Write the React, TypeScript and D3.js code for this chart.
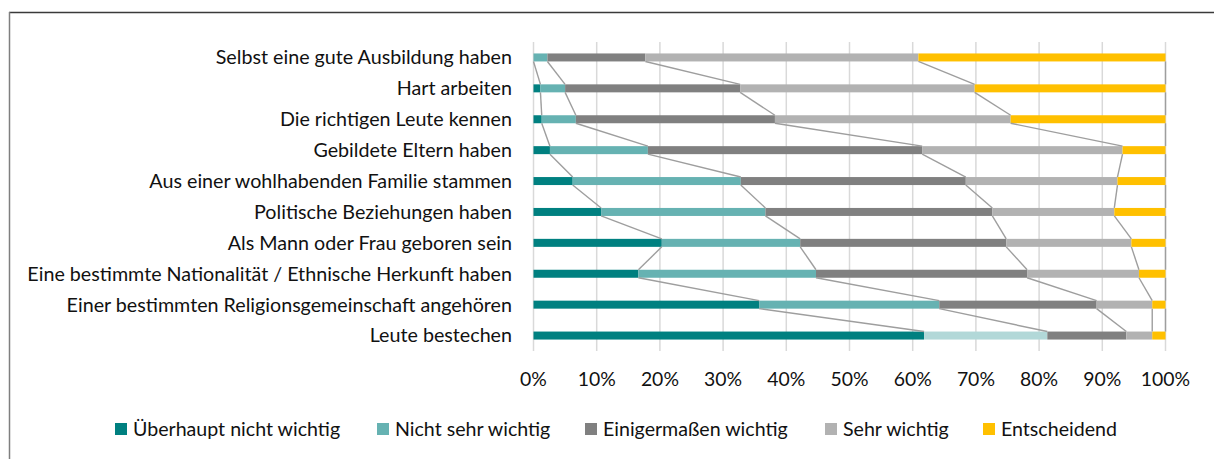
import React from "react";
import * as d3 from "d3";

const categories = [
  "Selbst eine gute Ausbildung haben",
  "Hart arbeiten",
  "Die richtigen Leute kennen",
  "Gebildete Eltern haben",
  "Aus einer wohlhabenden Familie stammen",
  "Politische Beziehungen haben",
  "Als Mann oder Frau geboren sein",
  "Eine bestimmte Nationalität / Ethnische Herkunft haben",
  "Einer bestimmten Religionsgemeinschaft angehören",
  "Leute bestechen",
];

const seriesNames = [
  "Überhaupt nicht wichtig",
  "Nicht sehr wichtig",
  "Einigermaßen wichtig",
  "Sehr wichtig",
  "Entscheidend",
];

const ueberhauptNicht = [0, 1.1, 1.3, 2.6, 6.2, 10.7, 20.3, 16.6, 35.7, 61.8];
const nichtSehr = [2.2, 3.9, 5.4, 15.5, 26.6, 26.0, 21.9, 28.1, 28.5, 19.5];
const einigermassen = [15.5, 27.7, 31.5, 43.4, 35.6, 35.9, 32.6, 33.4, 24.9, 12.5];
const sehr = [43.2, 37.1, 37.3, 31.7, 24.0, 19.3, 19.8, 17.7, 8.8, 4.1];
const entscheidend = [39.1, 30.2, 24.5, 6.8, 7.6, 8.1, 5.4, 4.2, 2.1, 2.1];

const tickValues = [0, 10, 20, 30, 40, 50, 60, 70, 80, 90, 100];

const colors = ["#008080", "#66b2b2", "#808080", "#b2b2b2", "#ffc000"];
// Excel point override: "Leute bestechen" / "Nicht sehr wichtig"
const highlightColor = "#b2d8d8";

const W = 1214;
const H = 459;
const FONT = "Lato, 'Open Sans', sans-serif";

// legend x-offsets for each entry (square left edge)
const legendX = [115, 377, 585, 825, 983];

const App: React.FC = () => {
  const seriesValues = [ueberhauptNicht, nichtSehr, einigermassen, sehr, entscheidend];
  const rows = categories.map((c, i) => {
    const row: Record<string, any> = { category: c };
    seriesNames.forEach((s, k) => (row[s] = seriesValues[k][i]));
    return row;
  });

  const stacked = d3.stack<any>().keys(seriesNames)(rows);

  const x = d3.scaleLinear().domain([0, 100]).range([533.5, 1165.5]);
  const y = d3.scaleBand().domain(categories).range([42, 351]).padding(0);
  const barH = 8;
  const cy = (c: string) => (y(c) || 0) + y.bandwidth() / 2;

  // series lines connect cumulative ends of neighbouring bars
  const seriesLines: { x1: number; y1: number; x2: number; y2: number }[] = [];
  stacked.forEach((layer) => {
    for (let i = 0; i < layer.length - 1; i++) {
      seriesLines.push({
        x1: x(layer[i][1]),
        y1: cy(categories[i]) + barH / 2,
        x2: x(layer[i + 1][1]),
        y2: cy(categories[i + 1]) - barH / 2,
      });
    }
  });

  return (
    <svg
      width={W}
      height={H}
      style={{ position: "absolute", left: 0, top: 0, background: "#fff" }}
    >
      {/* frame */}
      <line x1={9} y1={12.5} x2={W} y2={12.5} stroke="#3a3a3a" strokeWidth={1.5} />
      <line x1={9.5} y1={12} x2={9.5} y2={H} stroke="#7f7f7f" strokeWidth={1.5} />

      {/* gridlines */}
      {tickValues.map((t) => (
        <line
          key={t}
          x1={x(t)}
          x2={x(t)}
          y1={42}
          y2={351}
          stroke="#d9d9d9"
          strokeWidth={1.5}
        />
      ))}

      {/* bars */}
      {stacked.map((layer, k) => (
        <g key={layer.key}>
          {layer.map((d, i) => (
            <rect
              key={i}
              x={x(d[0])}
              y={cy(categories[i]) - barH / 2}
              width={Math.max(0, x(d[1]) - x(d[0]))}
              height={barH}
              fill={
                k === 1 && categories[i] === "Leute bestechen"
                  ? highlightColor
                  : colors[k]
              }
            />
          ))}
        </g>
      ))}

      {/* series lines */}
      {seriesLines.map((l, i) => (
        <line
          key={i}
          x1={l.x1}
          y1={l.y1}
          x2={l.x2}
          y2={l.y2}
          stroke="#9e9e9e"
          strokeWidth={1.4}
        />
      ))}

      {/* category labels */}
      {categories.map((c) => (
        <text
          key={c}
          x={512}
          y={cy(c)}
          dy="0.35em"
          textAnchor="end"
          fontFamily={FONT}
          fontSize={19.7}
          fill="#111"
        >
          {c}
        </text>
      ))}

      {/* x tick labels */}
      {tickValues.map((t) => (
        <text
          key={t}
          x={x(t)}
          y={386}
          textAnchor="middle"
          fontFamily={FONT}
          fontSize={19.4}
          fill="#111"
        >
          {t}%
        </text>
      ))}

      {/* legend */}
      {seriesNames.map((s, k) => (
        <g key={s} transform={`translate(${legendX[k]},423)`}>
          <rect width={12} height={12} fill={colors[k]} />
          <text x={18} y={6} dy="0.35em" fontFamily={FONT} fontSize={19.6} fill="#111">
            {s}
          </text>
        </g>
      ))}
    </svg>
  );
};

export default App;
